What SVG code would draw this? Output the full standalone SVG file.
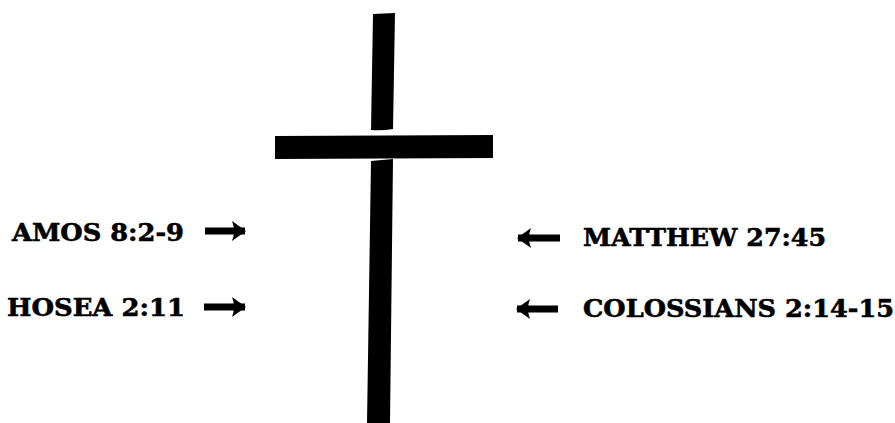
<svg xmlns="http://www.w3.org/2000/svg" width="895" height="423" viewBox="0 0 895 423">
<style>
.lbl{font-family:"DejaVu Serif","Liberation Serif",serif;font-weight:bold;font-size:25px;fill:#000;stroke:#000;stroke-width:0.6}
.bar{fill:#000}
.arr{stroke:#000;stroke-width:7;fill:none}
</style>
<defs>
<marker id="head" markerUnits="userSpaceOnUse" markerWidth="14" markerHeight="20" refX="13" refY="10" orient="auto">
<path d="M0,0 L14,10 L0,20 Q4,10 0,0 z" fill="#000"/>
</marker>
</defs>
<rect width="895" height="423" fill="#fff"/>
<g id="cross">
<path class="bar" d="M373,14 L395,13 L393,129 Q382,131 371,130 Z"/>
<path class="bar" d="M275,136 L493,135 L493,158 L275,159 Z"/>
<path class="bar" d="M371,161 L393,159 L390,423 L367,423 Z"/>
</g>
<g id="amos"><text class="lbl" x="12" y="241" textLength="172" lengthAdjust="spacingAndGlyphs">AMOS 8:2-9</text></g>
<g id="hosea"><text class="lbl" x="7" y="316" textLength="178" lengthAdjust="spacingAndGlyphs">HOSEA 2:11</text></g>
<g id="matthew"><text class="lbl" x="583" y="246" textLength="243" lengthAdjust="spacingAndGlyphs">MATTHEW 27:45</text></g>
<g id="colossians"><text class="lbl" x="583" y="317" textLength="311" lengthAdjust="spacingAndGlyphs">COLOSSIANS 2:14-15</text></g>
<g id="connectors">
<line class="arr" x1="205" y1="231" x2="245" y2="231" marker-end="url(#head)"/>
<line class="arr" x1="204" y1="307" x2="245" y2="307" marker-end="url(#head)"/>
<line class="arr" x1="560" y1="238" x2="518" y2="238" marker-end="url(#head)"/>
<line class="arr" x1="558" y1="309" x2="517" y2="309" marker-end="url(#head)"/>
</g>
</svg>
